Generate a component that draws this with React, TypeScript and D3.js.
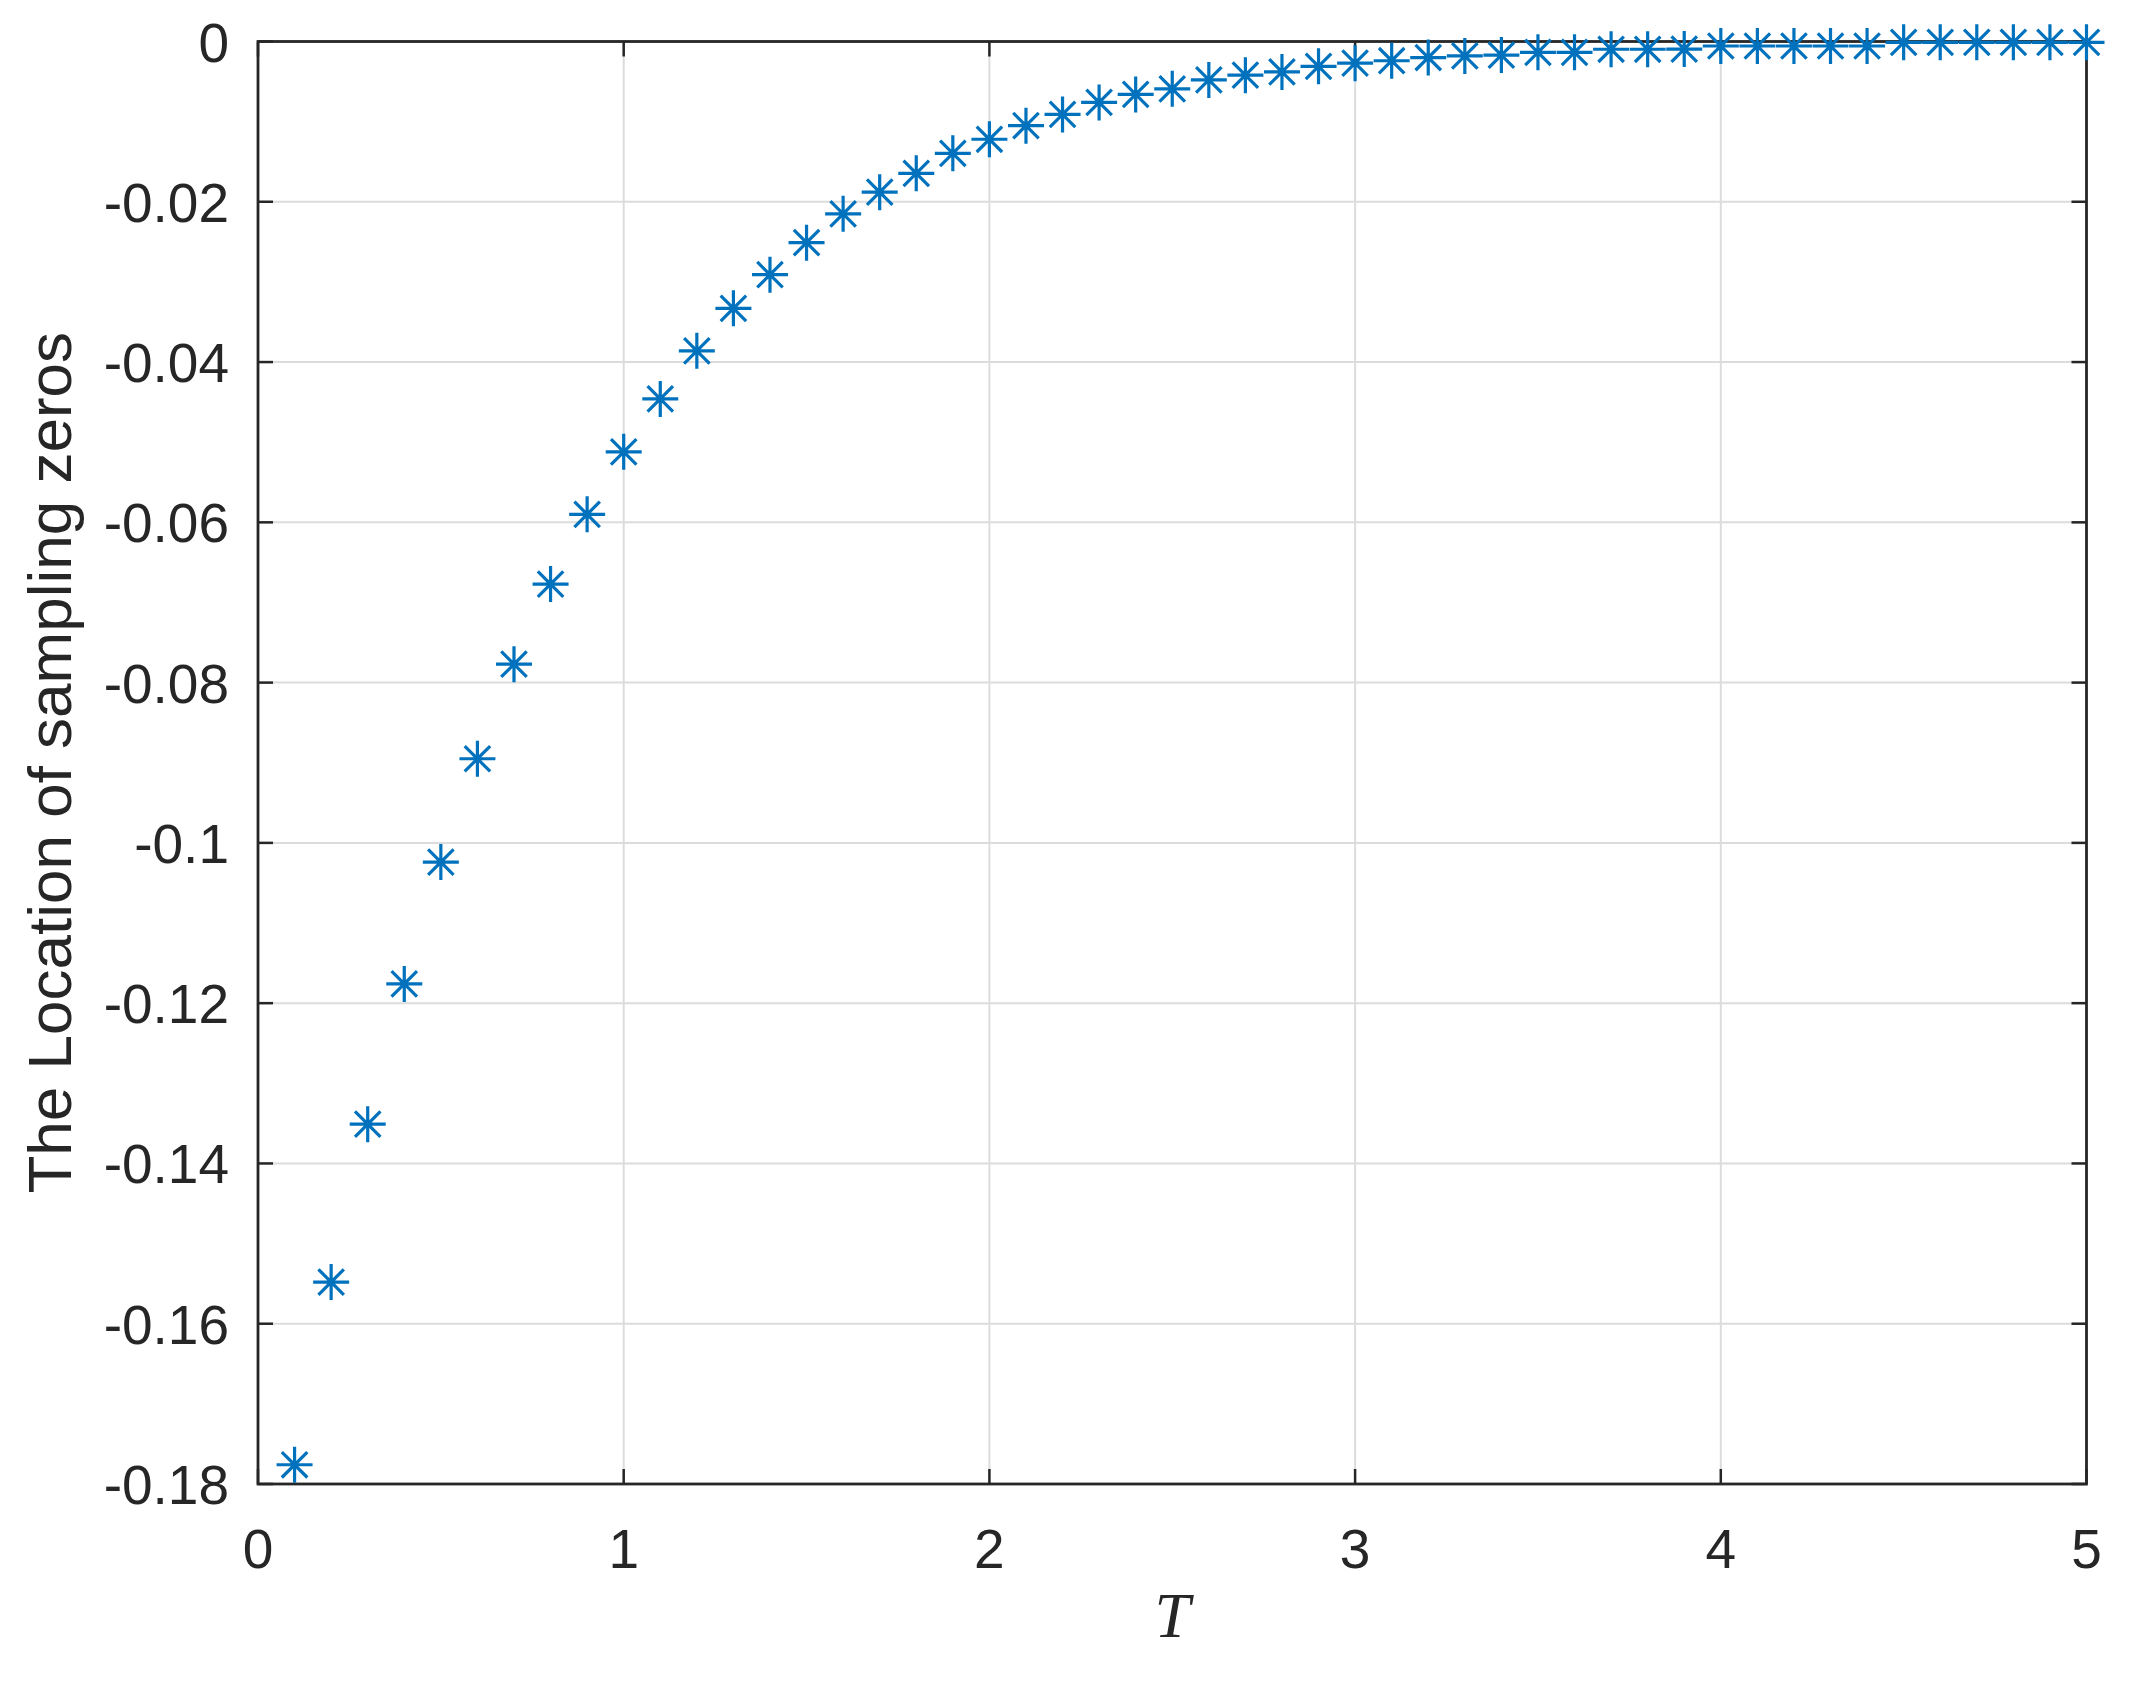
import React from "react";
import * as d3 from "d3";

const T_VALUES: number[] = [
  0.1, 0.2, 0.3, 0.4, 0.5, 0.6, 0.7, 0.8, 0.9, 1.0,
  1.1, 1.2, 1.3, 1.4, 1.5, 1.6, 1.7, 1.8, 1.9, 2.0,
  2.1, 2.2, 2.3, 2.4, 2.5, 2.6, 2.7, 2.8, 2.9, 3.0,
  3.1, 3.2, 3.3, 3.4, 3.5, 3.6, 3.7, 3.8, 3.9, 4.0,
  4.1, 4.2, 4.3, 4.4, 4.5, 4.6, 4.7, 4.8, 4.9, 5.0,
];

const ZERO_LOCATIONS: number[] = [
  -0.1776, -0.1548, -0.1351, -0.1176, -0.1024, -0.0895, -0.0777, -0.0677, -0.059, -0.0512,
  -0.0446, -0.0386, -0.0333, -0.0291, -0.0251, -0.0215, -0.0188, -0.01645, -0.01395, -0.0122,
  -0.0105, -0.0091, -0.0076, -0.0066, -0.0059, -0.0048, -0.0042, -0.0038, -0.0031, -0.0027,
  -0.0024, -0.002, -0.0018, -0.0017, -0.00135, -0.00135, -0.00097, -0.00097, -0.00095, -0.00056,
  -0.00056, -0.00056, -0.00056, -0.00056, -0.0001, -0.0001, -0.0001, -0.0001, -0.0001, -0.0001,
];

const X_TICKS: number[] = [0, 1, 2, 3, 4, 5];
const Y_TICKS: number[] = [0, -0.02, -0.04, -0.06, -0.08, -0.1, -0.12, -0.14, -0.16, -0.18];

const X_LABEL = "T";
const Y_LABEL = "The Location of sampling zeros";

export default function App() {
  const W = 2138;
  const H = 1682;
  const left = 258;
  const right = 2086.5;
  const top = 41.5;
  const bottom = 1484;

  const x = d3.scaleLinear().domain([0, 5]).range([left, right]);
  const y = d3.scaleLinear().domain([-0.18, 0]).range([bottom, top]);

  const axisColor = "#262626";
  const gridColor = "#dcdcdc";
  const markerColor = "#0072BD";
  const tickLen = 15;
  const r = 18;
  const a = r * Math.SQRT1_2;
  const star = `M0,${-r}V${r}M${-r},0H${r}M${-a},${-a}L${a},${a}M${-a},${a}L${a},${-a}`;

  const fmtY = (v: number) => (v === 0 ? "0" : String(+v.toFixed(2)));
  const font = "Arial, 'Liberation Sans', Helvetica, sans-serif";

  const points = T_VALUES.map((t, i) => ({ t, v: ZERO_LOCATIONS[i] }));

  return (
    <div style={{ position: "absolute", left: 0, top: 0 }}>
      <svg width={W} height={H} style={{ display: "block", background: "#ffffff" }}>
        <rect x={0} y={0} width={W} height={H} fill="#ffffff" />
        {/* grid */}
        <g>
          {X_TICKS.filter((t) => t > 0 && t < 5).map((t) => (
            <line key={"gx" + t} x1={x(t)} x2={x(t)} y1={top} y2={bottom} stroke={gridColor} strokeWidth={2} />
          ))}
          {Y_TICKS.filter((t) => t < 0 && t > -0.18).map((t) => (
            <line key={"gy" + t} x1={left} x2={right} y1={y(t)} y2={y(t)} stroke={gridColor} strokeWidth={2} />
          ))}
        </g>
        {/* ticks */}
        <g stroke={axisColor} strokeWidth={2.5}>
          {X_TICKS.map((t) => (
            <g key={"tx" + t}>
              <line x1={x(t)} x2={x(t)} y1={bottom} y2={bottom - tickLen} />
              <line x1={x(t)} x2={x(t)} y1={top} y2={top + tickLen} />
            </g>
          ))}
          {Y_TICKS.map((t) => (
            <g key={"ty" + t}>
              <line x1={left} x2={left + tickLen} y1={y(t)} y2={y(t)} />
              <line x1={right} x2={right - tickLen} y1={y(t)} y2={y(t)} />
            </g>
          ))}
        </g>
        {/* box */}
        <rect x={left} y={top} width={right - left} height={bottom - top} fill="none" stroke={axisColor} strokeWidth={2.8} />
        {/* data */}
        <g stroke={markerColor} strokeWidth={3.2} fill="none">
          {points.map((p) => (
            <path key={"m" + p.t} d={star} transform={`translate(${x(p.t)},${y(p.v)})`} />
          ))}
        </g>
        {/* tick labels */}
        <g fill={axisColor} fontFamily={font} fontSize={55}>
          {X_TICKS.map((t) => (
            <text key={"lx" + t} x={x(t)} y={1568} textAnchor="middle">
              {String(t)}
            </text>
          ))}
          {Y_TICKS.map((t) => (
            <text key={"ly" + t} x={229} y={y(t) + 20} textAnchor="end">
              {fmtY(t)}
            </text>
          ))}
        </g>
        {/* axis labels */}
        <text
          x={(left + right) / 2}
          y={1637}
          textAnchor="middle"
          fontFamily="'Liberation Serif', 'Times New Roman', serif"
          fontStyle="italic"
          fontSize={64}
          fill={axisColor}
        >
          {X_LABEL}
        </text>
        <text
          transform={`translate(71,${(top + bottom) / 2}) rotate(-90)`}
          textAnchor="middle"
          fontFamily={font}
          fontSize={62}
          fill={axisColor}
        >
          {Y_LABEL}
        </text>
      </svg>
    </div>
  );
}
